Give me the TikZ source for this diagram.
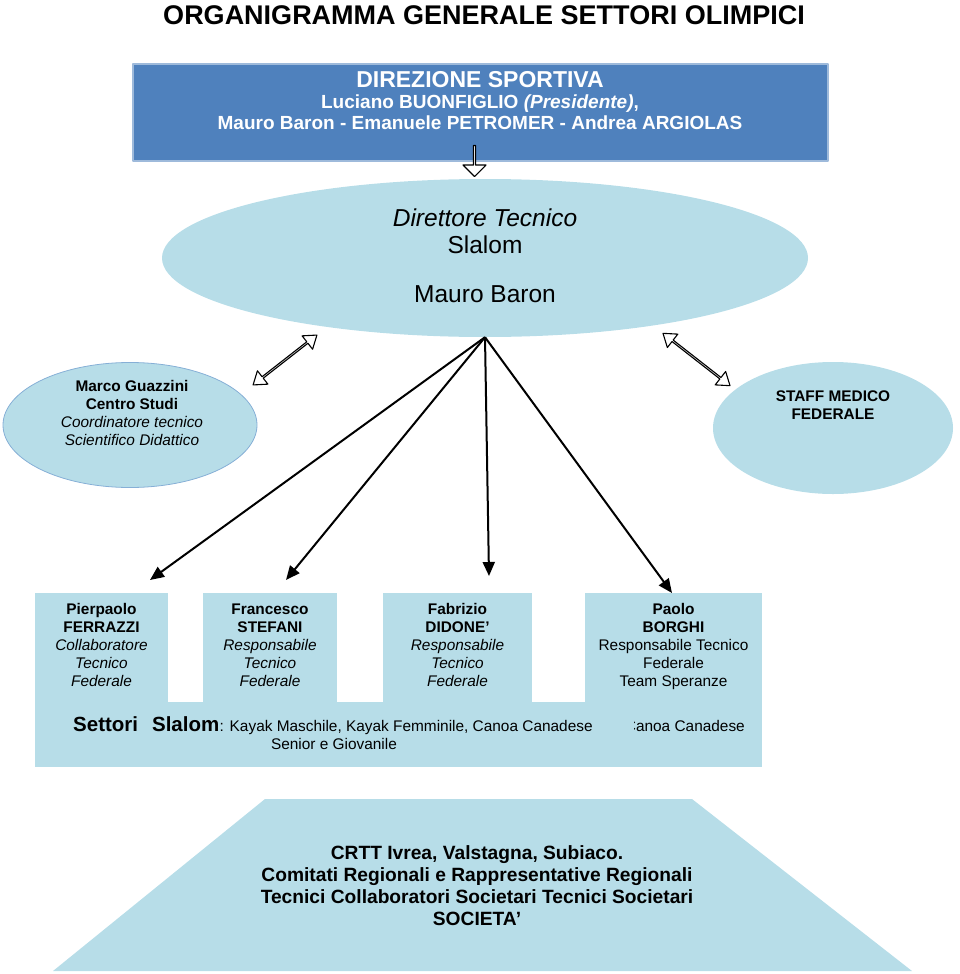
\documentclass[tikz,border=0pt]{standalone}
\usepackage{fontspec}
\setmainfont{Liberation Sans}
\usetikzlibrary{shapes.geometric,shapes.arrows,arrows.meta}
\definecolor{dirblue}{HTML}{4F81BD}
\definecolor{aqua}{HTML}{B7DDE8}
\definecolor{aquaedge}{HTML}{86AFD6}

\begin{document}
\begin{tikzpicture}[x=1pt,y=-1pt,>={Triangle[length=14pt,width=12pt]},line join=round,
  boxfill/.style={fill=aqua,draw=none,inner sep=0pt},
  txt/.style={font=\fontsize{15.4}{18}\selectfont,align=center,anchor=base,inner sep=0pt},
  big/.style={font=\fontsize{24.5}{27}\selectfont,align=center,anchor=base,inner sep=0pt},
  link/.style={->,line width=2pt},
  hollow/.style={draw=black,fill=white,line width=1.1pt,inner sep=0pt}]
\useasboundingbox (0,0) rectangle (960,974);

% titolo
\node[font=\fontsize{27}{30}\selectfont\bfseries,anchor=base] (title) at (484,25) {ORGANIGRAMMA GENERALE SETTORI OLIMPICI};

% direzione sportiva (base = ultima riga)
\node[fill=dirblue,draw=dirblue!55!white,line width=1.2pt,minimum width=695,minimum height=97,inner sep=0pt] (dir) at (480.5,112.5) {};
\node[text=white,font=\fontsize{19}{21}\selectfont\bfseries,align=center,anchor=base,inner sep=0pt] (dirtxt) at (480,129)
  {{\fontsize{23}{25}\selectfont DIREZIONE SPORTIVA}\\ Luciano BUONFIGLIO \textit{(Presidente)},\\ Mauro Baron - Emanuele PETROMER - Andrea ARGIOLAS};

% direttore tecnico
\node[ellipse,boxfill,minimum width=646,minimum height=158] (dt) at (485,258) {};
\node[big] (dttxt) at (485,302) {\textit{Direttore Tecnico}\\ Slalom\\[22pt] Mauro Baron};
\node[single arrow,hollow,rotate=-90,minimum height=31,minimum width=23,single arrow head extend=5.5] (down) at (474.5,160.5) {};

% centro studi e staff medico
\node[ellipse,fill=aqua,draw=aquaedge,line width=0.8pt,minimum width=254,minimum height=125] (cs) at (130,425) {};
\node[txt] (cstxt) at (132,445) {\textbf{Marco Guazzini}\\ \textbf{Centro Studi}\\ \textit{Coordinatore tecnico}\\ \textit{Scientifico Didattico}};
\node[ellipse,boxfill,minimum width=240,minimum height=132] (sm) at (833,428) {};
\node[txt,font=\fontsize{15.4}{17.5}\selectfont\bfseries] (smtxt) at (833,419) {STAFF MEDICO\\ FEDERALE};
\node[double arrow,hollow,rotate=38,minimum height=81,minimum width=17,double arrow head extend=4.5,double arrow tip angle=70] (lnkcs) at (285,360) {};
\node[double arrow,hollow,rotate=-38,minimum height=85,minimum width=17,double arrow head extend=4.5,double arrow tip angle=70] (lnksm) at (696.5,359.5) {};

% tecnici
\node[boxfill,minimum width=727,minimum height=65] (sett) at (398.5,734.5) {};
\node[boxfill,minimum width=133,minimum height=110] (b1) at (101.5,648) {};
\node[boxfill,minimum width=134,minimum height=110] (b2) at (270,648) {};
\node[boxfill,minimum width=149,minimum height=110] (b3) at (457.5,648) {};
\node[boxfill,minimum width=177,minimum height=110] (b4) at (673.5,648) {};
\node[txt] (b1txt) at (101.5,686) {\textbf{Pierpaolo}\\ \textbf{FERRAZZI}\\ \textit{Collaboratore}\\ \textit{Tecnico}\\ \textit{Federale}};
\node[txt] (b2txt) at (270,686) {\textbf{Francesco}\\ \textbf{STEFANI}\\ \textit{Responsabile}\\ \textit{Tecnico}\\ \textit{Federale}};
\node[txt] (b3txt) at (457.5,686) {\textbf{Fabrizio}\\ \textbf{DIDONE’}\\ \textit{Responsabile}\\ \textit{Tecnico}\\ \textit{Federale}};
\node[txt] (b4txt) at (673.5,686) {\textbf{Paolo}\\ \textbf{BORGHI}\\ Responsabile Tecnico\\ Federale\\ Team Speranze};

\coordinate (t1) at (150,580);
\coordinate (t2) at (286,580);
\coordinate (t3) at (489,576);
\coordinate (t4) at (672,593);
\draw[link] (dt.south) -- (t1);
\draw[link] (dt.south) -- (t2);
\draw[link] (dt.south) -- (t3);
\draw[link] (dt.south) -- (t4);

% settori
\node[anchor=base west,inner sep=0pt,font=\fontsize{20.5}{22}\selectfont\bfseries] (settori) at (73,731) {Settori\hspace{14pt}Slalom};
\node[anchor=base west,inner sep=0pt,font=\fontsize{15.4}{18}\selectfont] (disc) at (settori.base east) {: Kayak Maschile, Kayak Femminile, Canoa Canadese};
\node[txt] (senior) at (334,749) {Senior e Giovanile};
\begin{scope}
  \clip (634,705) rectangle (765,765);
  \node[txt,anchor=base east] (canoa) at (745,731) {Canoa Canadese};
\end{scope}

% societa
\fill[aqua] (265,799) -- (692,799) -- (912,971) -- (53,971) -- cycle;
\node[txt,font=\fontsize{19.2}{21.7}\selectfont\bfseries] (soc) at (477,925) {CRTT Ivrea, Valstagna, Subiaco.\\ Comitati Regionali e Rappresentative Regionali\\ Tecnici Collaboratori Societari Tecnici Societari\\ SOCIETA’};
\end{tikzpicture}
\end{document}
